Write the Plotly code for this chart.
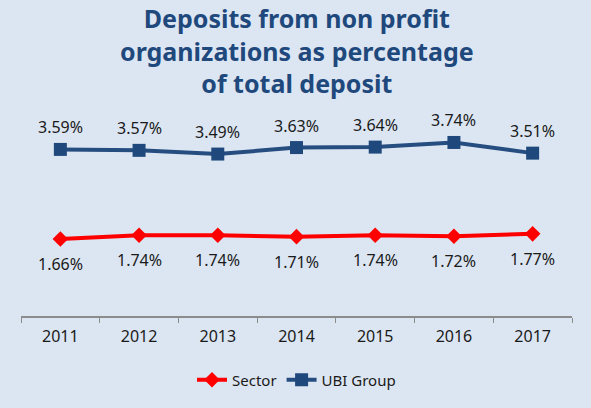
import plotly.graph_objects as go

years = ["2011", "2012", "2013", "2014", "2015", "2016", "2017"]
sector = [1.66, 1.74, 1.74, 1.71, 1.74, 1.72, 1.77]
ubi = [3.59, 3.57, 3.49, 3.63, 3.64, 3.74, 3.51]
title_text = "Deposits from non profit<br>organizations as percentage<br>of total deposit"

BG = "#DCE6F2"
BLUE = "#1F497D"
RED = "#FF0000"
FONT = "Noto Sans"
TXT = "#1a1a1a"

fig = go.Figure()
fig.add_trace(go.Scatter(
    x=years, y=sector, name="Sector", mode="lines+markers",
    line=dict(color=RED, width=4),
    marker=dict(symbol="diamond", size=12, color=RED),
))
fig.add_trace(go.Scatter(
    x=years, y=ubi, name="UBI Group", mode="lines+markers",
    line=dict(color="#254D80", width=4),
    marker=dict(symbol="square", size=13, color=BLUE),
))

# category axis: annotation x uses the category index
for i, v in enumerate(ubi):
    fig.add_annotation(x=i, y=v, text=f"{v:.2f}%", showarrow=False, yshift=22,
                       font=dict(family=FONT, size=16, color=TXT))
for i, v in enumerate(sector):
    fig.add_annotation(x=i, y=v, text=f"{v:.2f}%", showarrow=False, yshift=-25,
                       font=dict(family=FONT, size=16, color=TXT))

fig.add_annotation(
    text="<b>" + title_text + "</b>", x=0.5, xref="paper", xanchor="center",
    y=(327 + 5) / 243, yref="paper", yanchor="top", showarrow=False,
    font=dict(family=FONT, size=25, color=BLUE),
)

fig.update_layout(
    width=591, height=408,
    paper_bgcolor=BG, plot_bgcolor=BG,
    margin=dict(l=21, r=19, t=84, b=81),
    showlegend=True,
    legend=dict(orientation="h", x=0.5, xanchor="center", y=-0.2757, yanchor="middle",
                font=dict(family=FONT, size=15, color=TXT),
                bgcolor="rgba(0,0,0,0)"),
    font=dict(family=FONT),
)
fig.update_xaxes(
    type="category", range=[-0.5, 6.5], showgrid=False, showline=True,
    linecolor="#8C8C8C", linewidth=1.5, ticks="outside", tickson="boundaries",
    ticklen=5, tickcolor="#8C8C8C", tickfont=dict(family=FONT, size=16, color=TXT),
    ticklabelstandoff=5, zeroline=False,
)
fig.update_yaxes(range=[0, 5], visible=False, showgrid=False, zeroline=False)

fig.write_html("out.html", config={"displayModeBar": False},
               post_script="document.body.style.margin='0';")
